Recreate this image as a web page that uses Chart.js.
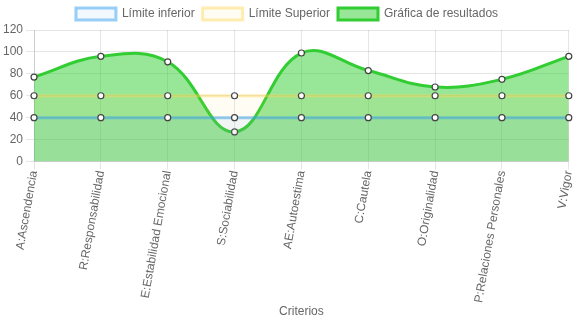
<!DOCTYPE html>
<html>
<head>
<meta charset="utf-8">
<script src="https://cdn.jsdelivr.net/npm/chart.js@4"></script>
<style>
  html, body { margin: 0; padding: 0; background: #fff; }
  #wrap { width: 574px; height: 323px; }
</style>
</head>
<body>
<div id="wrap"><canvas id="myChart"></canvas></div>
<script>
var criterios = [
  "A:Ascendencia",
  "R:Responsabilidad",
  "E:Estabilidad Emocional",
  "S:Sociabilidad",
  "AE:Autoestima",
  "C:Cautela",
  "O:Originalidad",
  "P:Relaciones Personales",
  "V:Vigor",
];
var limiteInferior = [40, 40, 40, 40, 40, 40, 40, 40, 40];
var limiteSuperior = [60, 60, 60, 60, 60, 60, 60, 60, 60];
var resultados = [77, 96, 91, 27, 99, 83, 68, 75, 96];

Chart.defaults.font.family = "'Liberation Sans', Arial, sans-serif";
Chart.defaults.color = "#666";

new Chart("myChart", {
  type: "line",
  data: {
    labels: criterios,
    datasets: [
      {
        label: "Límite inferior",
        data: limiteInferior,
        borderColor: "rgba(54,162,235,0.5)",
        backgroundColor: "rgba(54,162,235,0.07)",
        borderWidth: 3,
        fill: true,
        pointBackgroundColor: "#fff",
        pointBorderColor: "#444",
        pointBorderWidth: 1.2,
        pointRadius: 3,
        order: 1,
      },
      {
        label: "Límite Superior",
        data: limiteSuperior,
        borderColor: "rgba(255,215,86,0.45)",
        backgroundColor: "rgba(255,215,86,0.07)",
        borderWidth: 3,
        fill: true,
        pointBackgroundColor: "#fff",
        pointBorderColor: "#444",
        pointBorderWidth: 1.2,
        pointRadius: 3,
        order: 2,
      },
      {
        label: "Gráfica de resultados",
        data: resultados,
        borderColor: "rgb(50,205,50)",
        backgroundColor: "rgba(50,205,50,0.5)",
        borderWidth: 3,
        fill: true,
        tension: 0.4,
        pointBackgroundColor: "#fff",
        pointBorderColor: "#444",
        pointBorderWidth: 1.2,
        pointRadius: 3,
        order: 3,
      },
    ],
  },
  options: {
    responsive: true,
    maintainAspectRatio: false,
    animation: false,
    plugins: {
      legend: {
        position: "top",
        labels: { boxWidth: 40, padding: 8, font: { size: 12 } },
      },
    },
    scales: {
      x: {
        title: { display: true, text: "Criterios", font: { size: 12 } },
        ticks: { minRotation: 80, maxRotation: 80, padding: 0, font: { size: 12 } },
        grid: { color: "rgba(0,0,0,0.1)" },
        afterFit: function (scale) {
          scale.paddingRight = 4;
        },
      },
      y: {
        min: 0,
        max: 120,
        ticks: { stepSize: 20, font: { size: 12 } },
        grid: { color: "rgba(0,0,0,0.1)" },
      },
    },
  },
});
</script>
</body>
</html>
